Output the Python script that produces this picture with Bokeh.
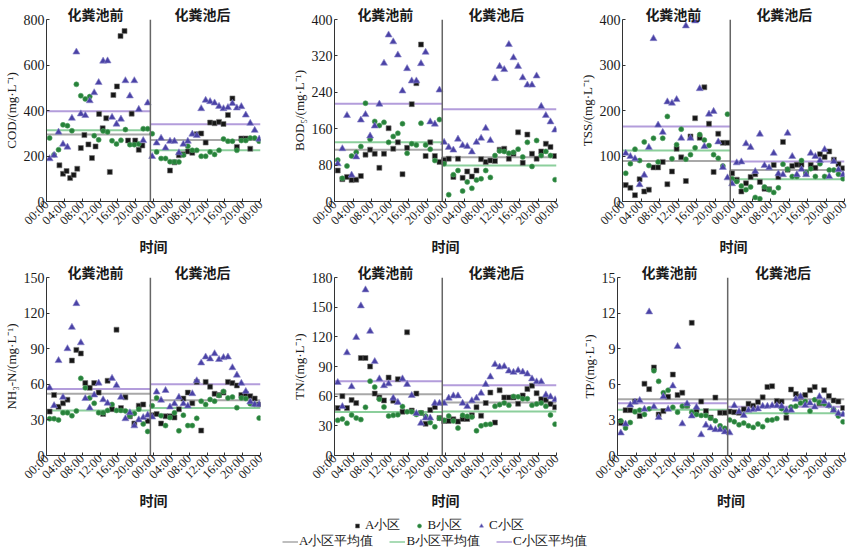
import math
from bokeh.plotting import figure
from bokeh.models import Range1d, FixedTicker, Span, Legend, LegendItem, LinearAxis
from bokeh.layouts import column, row
from bokeh.embed import file_html
from bokeh.resources import INLINE

# ---------------- data ----------------
# hourly sampling over two days: first 23 samples before the septic tank, 25 after
HOURS = [0.7 + i for i in range(48)]
DIVIDE_H = 23.3
TIME_TICKS = [0, 4, 8, 12, 16, 20, 24, 28, 32, 36, 40, 44, 48]
TIME_LABELS = ["00:00", "04:00", "08:00", "12:00", "16:00", "20:00", "00:00",
               "04:00", "08:00", "12:00", "16:00", "20:00", "00:00"]
SECTION_POS = [11, 35]
SECTIONS = ["化粪池前", "化粪池后"]
X_TITLE = "时间"
SERIES = ["A小区", "B小区", "C小区"]
MEAN_NAMES = ["A小区平均值", "B小区平均值", "C小区平均值"]

# COD (community A sampled on its own time grid)
COD_A_T = [2.9, 3.7, 4.5, 5.3, 6.1, 6.9, 7.7, 8.5, 9.4, 10.2, 11.0, 11.8, 12.6, 13.4,
           14.2, 15.0, 15.8, 16.6, 17.5, 18.3, 19.1, 19.9, 20.7, 21.5,
           27.7, 28.7, 29.7, 30.7, 31.7, 32.7, 33.7, 34.7, 35.7, 36.7, 37.7, 38.7,
           39.7, 40.7, 41.7, 42.7, 43.7, 44.7, 45.7]
COD_A = [159, 122, 134, 103, 117, 144, 235, 292, 251, 191, 242, 385, 322, 366, 130, 468,
         506, 727, 749, 268, 386, 268, 227, 246,
         136, 172, 203, 208, 220, 214, 296, 299, 259, 347, 344, 350, 341, 380, 453, 240,
         277, 277, 232]
COD_B = [279, 205, 228, 337, 333, 311, 515, 465, 451, 461, 289, 271, 310, 306, 267, 253,
         269, 316, 250, 250, 253, 320, 320,
         298, 218, 189, 189, 175, 174, 174, 204, 243, 225, 225, 199, 199, 218, 207, 225,
         275, 265, 265, 225, 268, 268, 279, 279, 265]
COD_C = [188, 203, 305, 252, 239, 366, 657, 385, 378, 443, 478, 523, 617, 618, 370, 340,
         362, 531, 464, 531, 405, 268, 433,
         198, 257, 278, 235, 265, 265, 214, 252, 265, 296, 290, 408, 445, 439, 433, 418,
         408, 413, 431, 411, 417, 380, 344, 313, 274]
COD_MEAN_BEFORE = [295, 313, 397]
COD_MEAN_AFTER = [270, 225, 340]
COD_TICKS = [0, 200, 400, 600, 800]

BOD_A = [68, 49, 54, 47, 48, 56, 103, 114, 105, 74, 105, 161, 116, 130, 60, 118, 214, 260,
         345, 100, 130, 100, 87,
         91, 94, 54, 94, 52, 66, 55, 68, 93, 87, 90, 89, 114, 116, 94, 105, 152, 85, 147,
         105, 94, 110, 127, 120, 100]
BOD_B = [91, 51, 78, 100, 108, 121, 216, 137, 176, 167, 174, 130, 143, 150, 171, 106, 127,
         124, 172, 124, 115, 90, 180,
         83, 15, 59, 68, 23, 43, 29, 47, 50, 68, 53, 101, 111, 110, 106, 108, 115, 98, 130,
         77, 134, 101, 110, 101, 48]
BOD_C = [83, 116, 189, 58, 98, 179, 191, 144, 166, 214, 304, 366, 351, 322, 243, 292, 265,
         265, 303, 328, 175, 170, 245,
         130, 119, 113, 137, 123, 121, 109, 130, 139, 161, 134, 270, 297, 290, 345, 316,
         297, 272, 256, 256, 276, 209, 189, 175, 157]
BOD_MEAN_BEFORE = [114, 130, 215]
BOD_MEAN_AFTER = [97, 79, 203]
BOD_TICKS = [0, 80, 160, 240, 320, 400]

TSS_A = [36, 30, 14, 49, 22, 26, 75, 75, 87, 38, 66, 116, 97, 45, 143, 183, 140, 251, 171,
         65, 149, 129, 129,
         62, 48, 22, 40, 54, 60, 43, 28, 27, 80, 54, 131, 70, 78, 81, 81, 63, 80, 74, 104,
         98, 110, 92, 82, 73]
TSS_B = [62, 83, 115, 90, 131, 79, 139, 87, 139, 187, 94, 125, 159, 93, 103, 118, 147, 135,
         123, 103, 95, 78, 192,
         50, 44, 34, 26, 32, 9, 6, 32, 26, 20, 30, 82, 71, 55, 55, 90, 64, 72, 55, 83, 55,
         69, 69, 60, 50]
TSS_C = [106, 99, 94, 37, 58, 119, 358, 168, 152, 219, 216, 224, 139, 386, 139, 397, 248,
         121, 192, 198, 131, 75, 52,
         39, 85, 87, 127, 119, 66, 148, 79, 74, 106, 61, 59, 150, 99, 59, 71, 59, 106, 99,
         90, 114, 55, 88, 70, 59]
TSS_MEAN_BEFORE = [89, 112, 165]
TSS_MEAN_AFTER = [69, 49, 88]
TSS_TICKS = [0, 100, 200, 300, 400]

NH3_A = [37, 51, 41, 44, 47, 80, 89, 86, 61, 57, 61, 53, 35, 63, 39, 106, 40, 49, 33, 27,
         42, 43, 29,
         34, 35, 27, 33, 33, 32, 39, 48, 53, 44, 62, 21, 62, 58, 52, 51, 53, 62, 61, 59,
         51, 52, 50, 48, 43]
NH3_B = [31, 31, 30, 36, 36, 33.5, 37.6, 65, 57, 48.5, 44, 36, 36, 38, 43, 38, 38, 37.6,
         33.5, 35.4, 39, 26.6, 20.3,
         42, 48.5, 33.5, 25.2, 32, 36, 20.8, 34, 25.2, 25.2, 31.3, 45.8, 43, 47.2, 45.8,
         50.5, 54, 48.5, 49.3, 40.3, 48.5, 48, 43.6, 43, 31.5]
NH3_C = [57, 42, 80, 49, 90, 108, 128, 95, 48, 40, 51, 61, 47, 44, 65, 59, 49, 31, 36, 25,
         30, 32, 34,
         32.4, 53.5, 46.6, 54.8, 40.9, 43.6, 49.1, 43.6, 41.7, 52.1, 63, 78, 83, 81.4, 85.8,
         80.9, 82.5, 83, 74, 67.7, 60.9, 54, 45.2, 43, 43]
NH3_MEAN_BEFORE = [52, 38, 56]
NH3_MEAN_AFTER = [46.5, 40, 60]
NH3_TICKS = [0, 30, 60, 90, 120, 150]

TN_A = [48, 60, 48, 56, 53, 98.6, 98.6, 90, 62.6, 58.7, 55.7, 78.8, 55.4, 77.2, 44.2, 124.6,
        45.5, 62.6, 43, 32, 46, 49, 38,
        35, 35, 36.6, 34.3, 36.9, 36.9, 40.6, 48.8, 40.2, 53.1, 63.6, 33.3, 65.9, 58.7,
        58.7, 58.7, 52.4, 60.7, 67.3, 70.6, 63, 57, 56.4, 52.1, 48.8]
TN_B = [35.6, 36.9, 32.6, 40.9, 37.9, 36.3, 48.8, 75.2, 69.2, 57, 49.1, 39.9, 40.6, 41.2,
        49.5, 44.2, 44.2, 41.5, 43.2, 39.9, 33.3, 29, 37.6,
        35.6, 39.9, 35, 27.7, 40.6, 39.6, 38.9, 25, 30, 31.3, 31.7, 49.8, 51.4, 53.1, 50.8,
        59.7, 59.3, 57.4, 57.4, 50.8, 52.1, 53.1, 49.8, 40.9, 31.7]
TN_C = [73.9, 49.5, 103.9, 69.6, 119.4, 151.3, 167.5, 125.6, 95, 77.5, 70.6, 72.5, 58, 53.7,
        77.5, 71.9, 60.7, 42.5, 32.6, 37.9, 37.9, 52.8, 52.8,
        52.8, 58, 60.3, 60.3, 52.8, 49.5, 55.4, 58, 63, 71.9, 79.5, 92, 89.4, 90, 85.4,
        84.1, 86, 84.4, 82.4, 77.5, 74.5, 74.5, 61.3, 59.3, 56.4]
TN_MEAN_BEFORE = [62, 44, 75]
TN_MEAN_AFTER = [53.5, 44.5, 71]
TN_TICKS = [0, 30, 60, 90, 120, 150, 180]

TP_A = [2.73, 3.82, 3.82, 4.55, 3.33, 6.05, 5.59, 7.42, 3.46, 3.74, 4.96, 6.82, 5.1, 5.29,
        4.2, 11.18, 3.8, 4.55, 3.74, 3.2, 4.88, 3.6, 3.6,
        3.7, 3.65, 3.6, 3.9, 4.36, 4.2, 4.5, 4.9, 5.78, 5.84, 4.6, 4.55, 3.19, 5.56, 5.18,
        4.96, 5.1, 5.5, 5.78, 4.4, 5.5, 5.02, 4.64, 4.55, 4.0]
TP_B = [2.92, 2.32, 2.78, 3.68, 3.82, 3.46, 3.93, 7.14, 6.25, 5.29, 5.5, 4.06, 3.65, 4.15,
        4.2, 3.65, 3.46, 3.38, 3.38, 3.14, 2.92, 2.5, 2.29,
        3.0, 2.84, 2.59, 2.73, 2.51, 2.37, 2.65, 2.43, 2.97, 3.0, 3.11, 3.95, 3.65, 4.09,
        4.15, 4.42, 4.55, 3.74, 4.69, 4.47, 4.36, 4.2, 3.87, 3.33, 2.84]
TP_C = [1.9, 2.65, 4.25, 4.5, 4.64, 3.9, 12.1, 4.1, 3.2, 4.96, 3.9, 5.86, 9.19, 2.67, 4.36,
        3.33, 4.06, 1.75, 2.56, 2.32, 2.18, 2.18, 1.99,
        1.91, 4.2, 3.68, 3.38, 3.82, 3.87, 3.93, 4.15, 4.15, 4.2, 4.2, 4.15, 3.82, 3.82,
        4.75, 4.96, 4.23, 4.42, 4.09, 4.96, 4.55, 4.2, 3.82, 3.55, 3.46]
TP_MEAN_BEFORE = [4.75, 3.85, 4.4]
TP_MEAN_AFTER = [4.75, 3.55, 4.1]
TP_TICKS = [0, 3, 6, 9, 12, 15]

# ---------------- style ----------------
SERIF = "Liberation Serif"
CJK = "Noto Sans CJK SC"
MARK_FILL = ["#161616", "#27823a", "#4a42a6"]
MARK_LINE = ["#777777", "#4f9d5f", "#8a84c8"]
MARKERS = ["square", "circle", "triangle"]
MARK_SIZE = [5, 5, 7]
MEAN_COLORS = ["#a8a8a8", "#8ccf9c", "#b39ddb"]
AXIS_COLOR = "#333333"
TXT = "#1a1a1a"


def make_panel(ylabel, ticks, a_t, a, b, c, m_before, m_after,
               w, h, bl, br, bb):
    ymax = ticks[-1]
    p = figure(width=w, height=h, x_range=Range1d(0, 48), y_range=Range1d(0, ymax),
               min_border_left=bl, min_border_right=br, min_border_top=0,
               min_border_bottom=bb, output_backend="svg", toolbar_location=None)
    p.xgrid.visible = False
    p.ygrid.visible = False
    p.outline_line_color = None
    p.background_fill_color = "white"
    p.border_fill_color = "white"

    xa = p.below[0]
    xa.ticker = FixedTicker(ticks=TIME_TICKS)
    xa.major_label_overrides = {t: lab for t, lab in zip(TIME_TICKS, TIME_LABELS)}
    xa.major_label_orientation = math.pi / 4
    xa.minor_tick_line_color = None
    xa.major_tick_in = 3
    xa.major_tick_out = 0
    xa.major_label_standoff = 1
    xa.major_label_text_font = SERIF
    xa.major_label_text_font_size = "12.5px"
    xa.major_label_text_color = TXT
    xa.axis_line_color = AXIS_COLOR
    xa.major_tick_line_color = AXIS_COLOR
    xa.axis_label = X_TITLE
    xa.axis_label_text_font = CJK
    xa.axis_label_text_font_style = "bold"
    xa.axis_label_text_font_size = "14px"
    xa.axis_label_text_color = TXT
    xa.axis_label_standoff = 0

    ya = p.left[0]
    ya.ticker = FixedTicker(ticks=ticks)
    ya.minor_tick_line_color = None
    ya.major_tick_in = 3
    ya.major_tick_out = 0
    ya.major_label_standoff = 2
    ya.major_label_text_font = SERIF
    ya.major_label_text_font_size = "14px"
    ya.major_label_text_color = TXT
    ya.axis_line_color = AXIS_COLOR
    ya.major_tick_line_color = AXIS_COLOR
    ya.axis_label = ylabel
    ya.axis_label_text_font = SERIF
    ya.axis_label_text_font_style = "normal"
    ya.axis_label_text_font_size = "13px"
    ya.axis_label_text_color = TXT
    ya.axis_label_standoff = 2

    # section titles as a label-only axis above the frame
    ta = LinearAxis(ticker=FixedTicker(ticks=SECTION_POS),
                    major_label_overrides={t: s for t, s in zip(SECTION_POS, SECTIONS)},
                    axis_line_color=None, major_tick_line_color=None,
                    minor_tick_line_color=None, major_tick_in=0, major_tick_out=0,
                    major_label_standoff=-4,
                    major_label_text_font=CJK, major_label_text_font_style="bold",
                    major_label_text_font_size="14px", major_label_text_color=TXT)
    p.add_layout(ta, "above")

    p.add_layout(Span(location=DIVIDE_H, dimension="height", line_color="#666666",
                      line_width=1.5))

    for k in range(3):
        p.segment(x0=[0, DIVIDE_H], x1=[DIVIDE_H, 48],
                  y0=[m_before[k], m_after[k]], y1=[m_before[k], m_after[k]],
                  line_color=MEAN_COLORS[k], line_width=2)

    for k, (xs, ys) in enumerate([(a_t, a), (HOURS, b), (HOURS, c)]):
        p.scatter(x=xs, y=ys, marker=MARKERS[k], size=MARK_SIZE[k],
                  fill_color=MARK_FILL[k], line_color=MARK_LINE[k], line_width=0.6)
    return p


W = [288, 288, 273]
BL = [41, 41, 41]
FW = [219, 227, 227]
BR = [W[i] - BL[i] - FW[i] for i in range(3)]

H1, BB1 = 258, 50
H2, BB2 = 254, 50

p1 = make_panel("COD/(mg·L⁻¹)", COD_TICKS, COD_A_T, COD_A, COD_B, COD_C,
                COD_MEAN_BEFORE, COD_MEAN_AFTER, W[0], H1, BL[0], BR[0], BB1)
p2 = make_panel("BOD₅/(mg·L⁻¹)", BOD_TICKS, HOURS, BOD_A, BOD_B, BOD_C,
                BOD_MEAN_BEFORE, BOD_MEAN_AFTER, W[1], H1, BL[1], BR[1], BB1)
p3 = make_panel("TSS/(mg·L⁻¹)", TSS_TICKS, HOURS, TSS_A, TSS_B, TSS_C,
                TSS_MEAN_BEFORE, TSS_MEAN_AFTER, W[2], H1, BL[2], BR[2], BB1)
p4 = make_panel("NH₃-N/(mg·L⁻¹)", NH3_TICKS, HOURS, NH3_A, NH3_B, NH3_C,
                NH3_MEAN_BEFORE, NH3_MEAN_AFTER, W[0], H2, BL[0], BR[0], BB2)
p5 = make_panel("TN/(mg·L⁻¹)", TN_TICKS, HOURS, TN_A, TN_B, TN_C,
                TN_MEAN_BEFORE, TN_MEAN_AFTER, W[1], H2, BL[1], BR[1], BB2)
p6 = make_panel("TP/(mg·L⁻¹)", TP_TICKS, HOURS, TP_A, TP_B, TP_C,
                TP_MEAN_BEFORE, TP_MEAN_AFTER, W[2], H2, BL[2], BR[2], BB2)

# ---------------- legend strip ----------------
NAN = [float("nan")]
lf = figure(width=849, height=38, x_range=Range1d(0, 1), y_range=Range1d(0, 1),
            min_border=0, output_backend="svg", toolbar_location=None)
lf.axis.visible = False
lf.xgrid.visible = False
lf.ygrid.visible = False
lf.outline_line_color = None
lf.border_fill_color = "white"

mark_r = []
for k in range(3):
    mark_r.append(lf.scatter(x=NAN, y=NAN, marker=MARKERS[k], size=MARK_SIZE[k] - 1,
                             fill_color=MARK_FILL[k], line_color=MARK_LINE[k],
                             line_width=0.6))
line_r = []
for k in range(3):
    line_r.append(lf.line(x=NAN, y=NAN, line_color=MEAN_COLORS[k], line_width=1.5))

leg1 = Legend(items=[LegendItem(label=SERIES[k], renderers=[mark_r[k]]) for k in range(3)],
              orientation="horizontal", location=(352, 16), glyph_width=10,
              glyph_height=13, label_standoff=3, spacing=14, padding=0, margin=0,
              label_text_font=SERIF, label_text_font_size="13px",
              label_text_color=TXT, border_line_color=None,
              background_fill_alpha=0)
leg2 = Legend(items=[LegendItem(label=MEAN_NAMES[k], renderers=[line_r[k]]) for k in range(3)],
              orientation="horizontal", location=(282, 0), glyph_width=16,
              glyph_height=13, label_standoff=1, spacing=16, padding=0, margin=0,
              label_text_font=SERIF, label_text_font_size="13px",
              label_text_color=TXT, border_line_color=None,
              background_fill_alpha=0)
lf.add_layout(leg1)
lf.add_layout(leg2)

layout = column(row(p1, p2, p3), row(p4, p5, p6), lf)

with open("out.html", "w") as f:
    f.write(file_html(layout, INLINE))
